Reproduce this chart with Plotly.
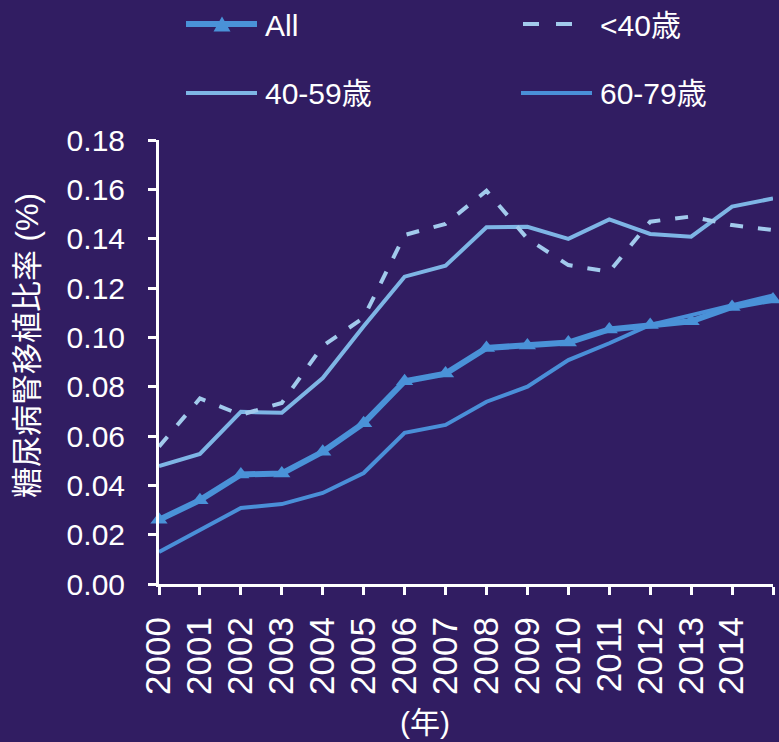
import plotly.graph_objects as go

years = list(range(2000, 2016))
tick_labels = [str(y) for y in range(2000, 2015)] + [""]

all_vals = [0.026, 0.034, 0.0444, 0.0448, 0.0536, 0.0652, 0.0822, 0.0853, 0.0957, 0.0967,
            0.0979, 0.1032, 0.1050, 0.1065, 0.1123, 0.1153]
under40 = [0.0557, 0.0752, 0.0686, 0.0734, 0.0965, 0.1080, 0.1415, 0.1460, 0.1594, 0.1400,
           0.1293, 0.1266, 0.1469, 0.1490, 0.1455, 0.1435]
age40_59 = [0.0478, 0.0527, 0.0698, 0.0694, 0.0835, 0.1045, 0.1246, 0.1290, 0.1446, 0.1448,
            0.1399, 0.1478, 0.1419, 0.1408, 0.1530, 0.1563]
age60_79 = [0.0130, 0.0219, 0.0308, 0.0324, 0.0369, 0.0450, 0.0613, 0.0645, 0.0739, 0.0800,
            0.0908, 0.0976, 0.1050, 0.1090, 0.1130, 0.1170]

names = ["All", "<40歳", "40-59歳", "60-79歳"]
y_title = "糖尿病腎移植比率 (%)"
x_title = "(年)"

BG = "#311D62"
C_ALL = "#4A92D8"
C_U40 = "#A2CAEC"
C_4059 = "#7EB5E5"
C_6079 = "#4A8FD8"
FONT = "Arial, Liberation Sans, Noto Sans CJK JP, sans-serif"

W, H = 779, 742
ML, MR, MT, MB = 159, 6, 140, 158
PW, PH = W - ML - MR, H - MT - MB


def px(xp):
    return (xp - ML) / PW


def py(yp):
    return (H - MB - yp) / PH


fig = go.Figure()
fig.add_trace(go.Scatter(x=years, y=age40_59, mode="lines", name=names[2],
                         line=dict(color=C_4059, width=4), cliponaxis=False))
fig.add_trace(go.Scatter(x=years, y=under40, mode="lines", name=names[1],
                         line=dict(color=C_U40, width=4, dash="13px,15px"), cliponaxis=False))
fig.add_trace(go.Scatter(x=years, y=age60_79, mode="lines", name=names[3],
                         line=dict(color=C_6079, width=4), cliponaxis=False))
fig.add_trace(go.Scatter(x=years, y=all_vals, mode="lines+markers", name=names[0],
                         line=dict(color=C_ALL, width=6),
                         marker=dict(symbol="triangle-up", size=15, color=C_ALL),
                         cliponaxis=False))

shapes = []
annotations = []

# custom legend
leg = [
    (names[0], C_ALL, "solid", 186, 257, 24, 263, 6),
    (names[1], C_U40, "16px,17px", 523, 576, 24, 598, 4),
    (names[2], C_4059, "solid", 186, 257, 93, 263, 4),
    (names[3], C_6079, "solid", 521, 592, 93, 598, 4),
]
for name, col, dash, x0, x1, yy, tx, w in leg:
    shapes.append(dict(type="line", xref="paper", yref="paper",
                       x0=px(x0), x1=px(x1), y0=py(yy), y1=py(yy),
                       line=dict(color=col, width=w, dash=dash)))
    annotations.append(dict(text=name, xref="paper", yref="paper", x=px(tx), y=py(yy + 1),
                            xanchor="left", yanchor="middle", showarrow=False,
                            font=dict(size=30, color="white", family=FONT)))
# legend triangle for All
cx, cy, tw, th = 222, 24, 17, 15
path = "M {} {} L {} {} L {} {} Z".format(px(cx - tw / 2), py(cy + th / 2),
                                          px(cx + tw / 2), py(cy + th / 2),
                                          px(cx), py(cy - th / 2))
shapes.append(dict(type="path", xref="paper", yref="paper", path=path,
                   fillcolor=C_ALL, line=dict(width=0)))

annotations.append(dict(text=y_title, xref="paper", yref="paper", x=px(27), y=py(346),
                        xanchor="center", yanchor="middle", textangle=-90, showarrow=False,
                        font=dict(size=31, color="white", family=FONT)))
annotations.append(dict(text=x_title, xref="paper", yref="paper", x=px(425), y=py(722),
                        xanchor="center", yanchor="middle", showarrow=False,
                        font=dict(size=30, color="white", family=FONT)))

fig.update_layout(
    width=W, height=H,
    margin=dict(l=ML, r=MR, t=MT, b=MB),
    paper_bgcolor=BG, plot_bgcolor=BG,
    showlegend=False,
    shapes=shapes, annotations=annotations,
    font=dict(family=FONT, color="white"),
)
fig.update_xaxes(range=[2000, 2015], tickvals=years, ticktext=tick_labels,
                 tickangle=-90, tickfont=dict(size=35, color="white", family=FONT),
                 showgrid=False, zeroline=False, showline=True, linecolor="white", linewidth=3,
                 ticks="outside", ticklen=8, tickwidth=3, tickcolor="white",
                 ticklabelstandoff=8)
fig.update_yaxes(range=[0, 0.18], tickvals=[i * 0.02 for i in range(10)],
                 tickformat=".2f", tickfont=dict(size=30, color="white", family=FONT),
                 showgrid=False, zeroline=False, showline=True, linecolor="white", linewidth=3,
                 ticks="outside", ticklen=8, tickwidth=3, tickcolor="white",
                 ticklabelstandoff=17)

post = ("document.body.style.margin='0';document.body.style.padding='0';"
        "document.body.style.background='" + BG + "';"
        "document.documentElement.style.background='" + BG + "';"
        "document.body.style.overflow='hidden';")
fig.write_html("out.html", post_script=post, config={"displayModeBar": False})
